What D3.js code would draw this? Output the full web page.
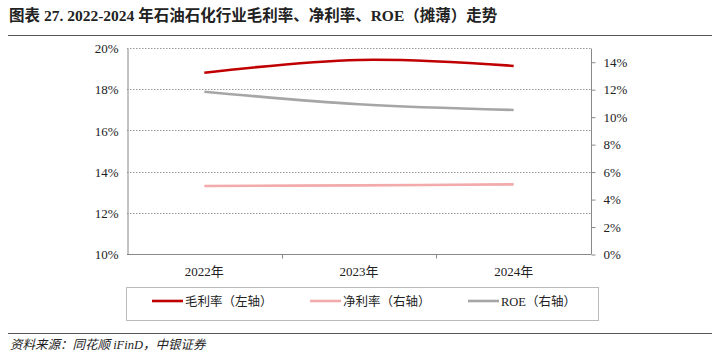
<!DOCTYPE html>
<html>
<head>
<meta charset="utf-8">
<script src="https://cdn.jsdelivr.net/npm/d3@7"></script>
<style>
  body { margin: 0; background: #fff; }
  svg { display: block; }
  text { font-family: "Liberation Serif", "Noto Sans CJK SC", serif; fill: #222; }
</style>
</head>
<body>
<svg id="chart" width="719" height="364"></svg>
<script>
// --- data ---
const years = ['2022年', '2023年', '2024年'];
const grossMargin = [18.80, 19.42, 19.13];   // left axis, %
const netMargin = [4.95, 5.00, 5.07];        // right axis, %
const roe = [11.82, 10.90, 10.49];           // right axis, %
const leftTicks = [10, 12, 14, 16, 18, 20];
const rightTicks = [0, 2, 4, 6, 8, 10, 12, 14];

const series = [
  { name: '毛利率（左轴）', values: grossMargin, axis: 'left', color: '#c00000' },
  { name: '净利率（右轴）', values: netMargin, axis: 'right', color: '#f2aaaa' },
  { name: 'ROE（右轴）', values: roe, axis: 'right', color: '#a6a6a6' },
];

const svg = d3.select('#chart');
const plot = { left: 127, right: 591, top: 48, bottom: 254 };

// title
svg.append('text')
  .attr('x', 9).attr('y', 21)
  .attr('font-size', '15.5px').attr('font-weight', 700)
  .text('图表 27. 2022-2024 年石油石化行业毛利率、净利率、ROE（摊薄）走势');
svg.append('line')
  .attr('x1', 8).attr('x2', 712).attr('y1', 35.5).attr('y2', 35.5)
  .attr('stroke', '#555').attr('stroke-width', 1.2);

const x = d3.scaleBand().domain(years).range([plot.left, plot.right]);
const yL = d3.scaleLinear().domain([10, 20]).range([plot.bottom, plot.top]);
const yR = d3.scaleLinear().domain([0, 15]).range([plot.bottom, plot.top]);

// gridlines
svg.append('g').selectAll('line')
  .data(leftTicks.slice(1))
  .join('line')
  .attr('x1', plot.left).attr('x2', plot.right)
  .attr('y1', d => Math.round(yL(d)) + 0.5).attr('y2', d => Math.round(yL(d)) + 0.5)
  .attr('stroke', '#999').attr('stroke-dasharray', '1.5,1.5');

// left axis
const gL = svg.append('g')
  .attr('transform', `translate(${plot.left + 0.5},0.5)`)
  .call(d3.axisLeft(yL).tickValues(leftTicks).tickSize(0).tickPadding(9).tickFormat(d => d + '%'));
gL.select('.domain').attr('stroke', '#888');
gL.selectAll('text').attr('font-size', '13px').attr('fill', '#333');

// right axis
const gR = svg.append('g')
  .attr('transform', `translate(${plot.right + 0.5},0.5)`)
  .call(d3.axisRight(yR).tickValues(rightTicks).tickSize(4).tickPadding(8).tickFormat(d => d + '%'));
gR.select('.domain').attr('stroke', '#888').attr('d', `M0,${plot.top}V${plot.bottom}`);
gR.selectAll('line').attr('stroke', '#888');
gR.selectAll('text').attr('font-size', '13px').attr('fill', '#333');

// bottom axis
const gB = svg.append('g')
  .attr('transform', `translate(0,${plot.bottom + 0.5})`)
  .call(d3.axisBottom(x).tickSize(0).tickPadding(12));
gB.select('.domain').attr('stroke', '#888').attr('d', `M${plot.left},0H${plot.right}`);
gB.selectAll('text').attr('font-size', '13px').attr('fill', '#333');
gB.append('g').selectAll('line')
  .data(years.slice(1))
  .join('line')
  .attr('x1', d => Math.round(x(d)) + 0.5).attr('x2', d => Math.round(x(d)) + 0.5)
  .attr('y1', 0).attr('y2', 4)
  .attr('stroke', '#888');

// lines
const cx = (d, i) => x(years[i]) + x.bandwidth() / 2;
series.forEach(s => {
  const yS = s.axis === 'left' ? yL : yR;
  const line = d3.line().x(cx).y(d => yS(d)).curve(d3.curveCatmullRom.alpha(0.5));
  svg.append('path')
    .datum(s.values)
    .attr('d', line)
    .attr('fill', 'none')
    .attr('stroke', s.color)
    .attr('stroke-width', 2.6);
});

// legend
svg.append('rect')
  .attr('x', 126.5).attr('y', 287.5).attr('width', 472).attr('height', 33)
  .attr('fill', 'none').attr('stroke', '#bbb');
const legendX = [152, 310, 468];
const lg = svg.append('g').selectAll('g')
  .data(series)
  .join('g')
  .attr('transform', (d, i) => `translate(${legendX[i]},301)`);
lg.append('line')
  .attr('x1', 0).attr('x2', 31).attr('y1', 0).attr('y2', 0)
  .attr('stroke', d => d.color).attr('stroke-width', 2.6);
lg.append('text')
  .attr('x', 33).attr('y', 4.5)
  .attr('font-size', '12.5px')
  .text(d => d.name);

// source
svg.append('line')
  .attr('x1', 8).attr('x2', 712).attr('y1', 333.5).attr('y2', 333.5)
  .attr('stroke', '#555').attr('stroke-width', 1.2);
svg.append('text')
  .attr('x', 10).attr('y', 349)
  .attr('font-size', '12.5px').attr('font-style', 'italic')
  .text('资料来源：同花顺 iFinD，中银证券');
</script>
</body>
</html>
